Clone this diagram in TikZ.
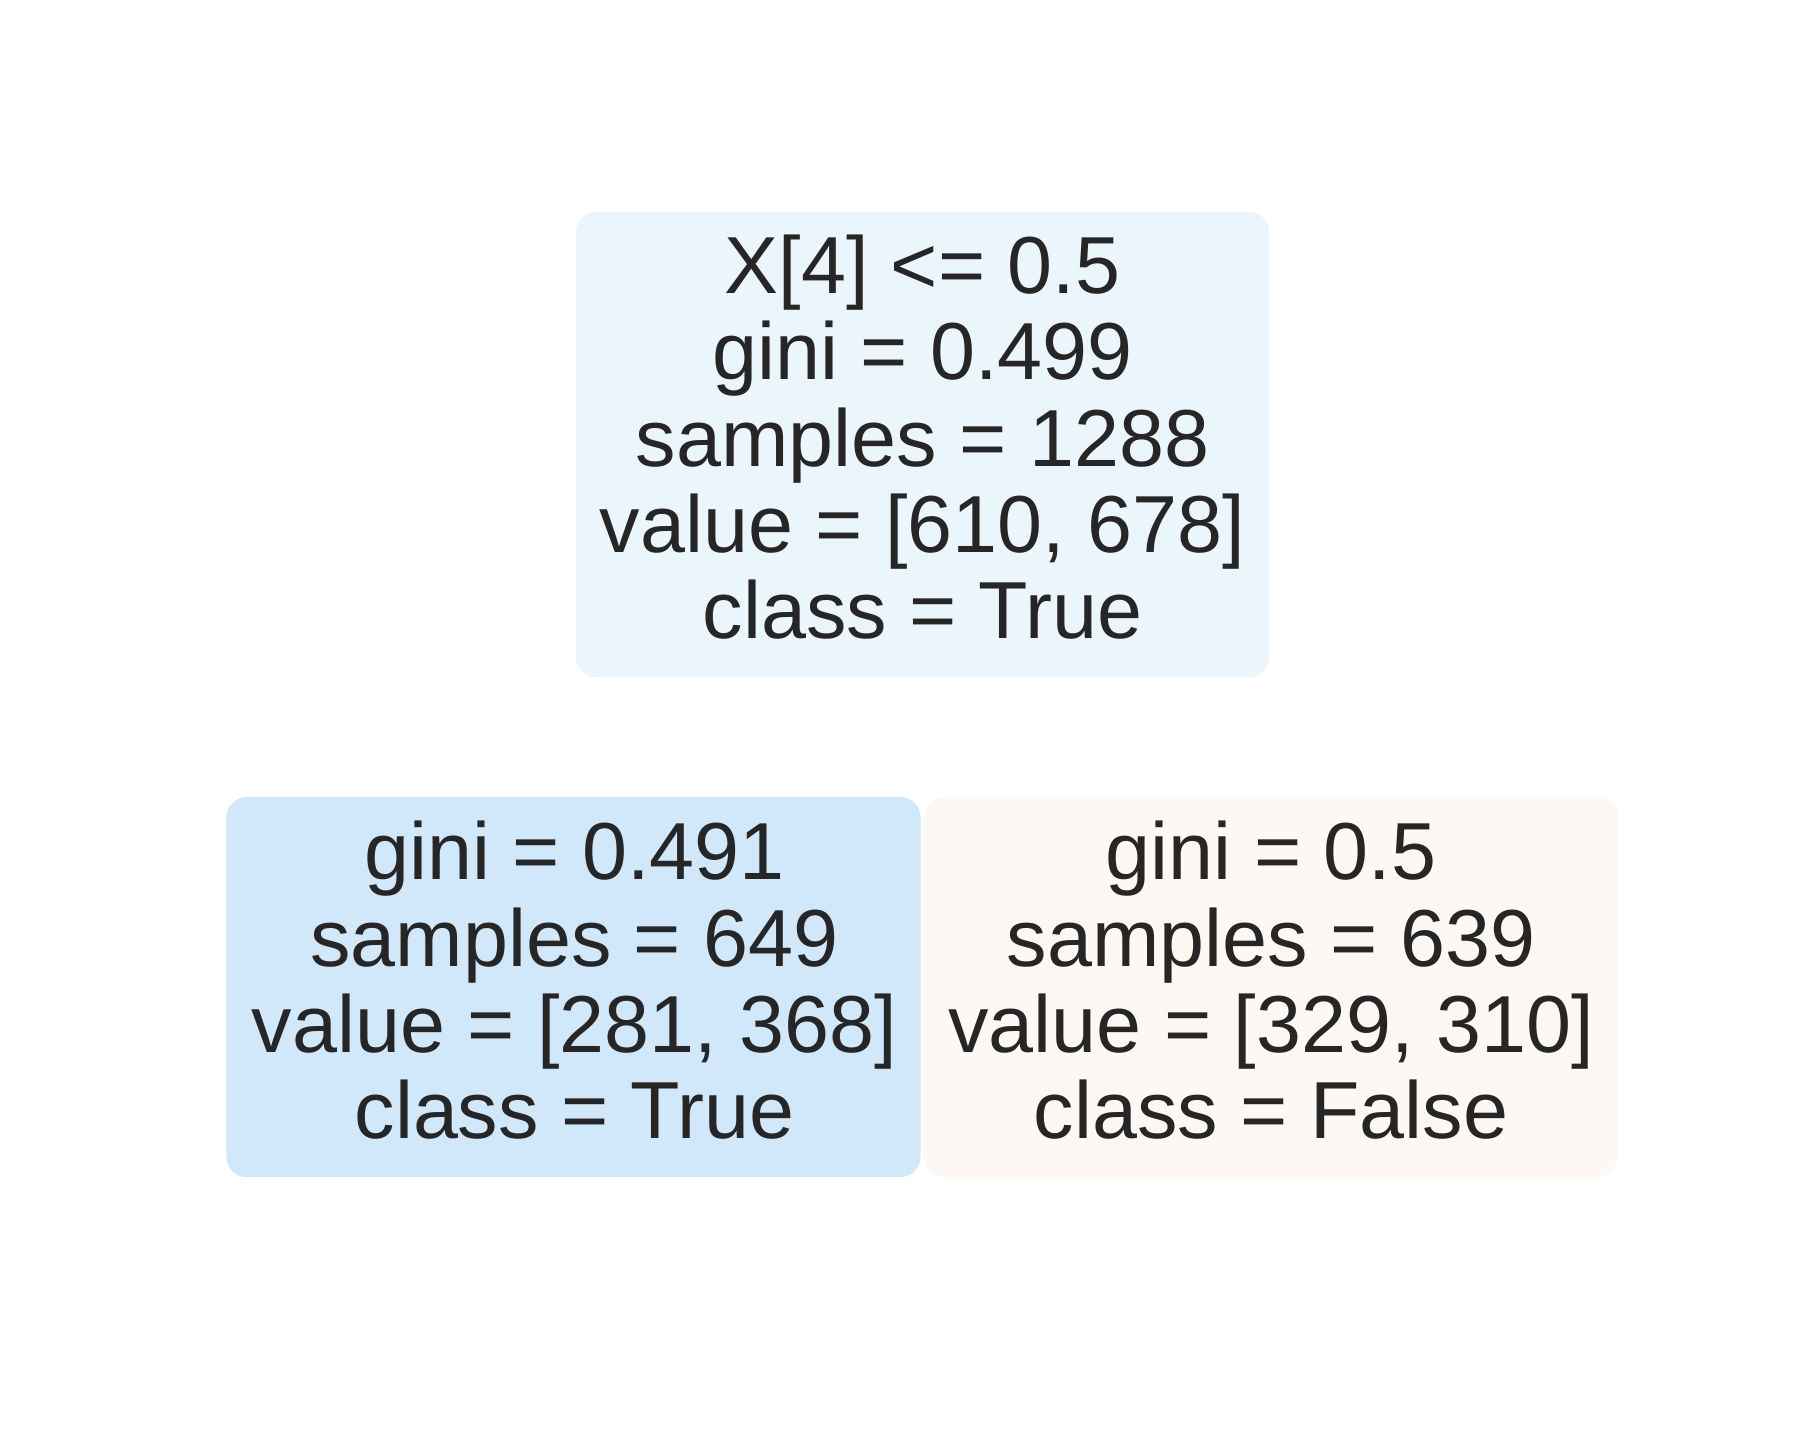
\documentclass[tikz,border=0pt]{standalone}
\usepackage{fontspec}
\setmainfont{Liberation Sans}
\definecolor{rootfill}{RGB}{235,245,252}
\definecolor{leftfill}{RGB}{208,232,249}
\definecolor{rightfill}{RGB}{253,248,244}
\definecolor{txt}{RGB}{38,38,38}
\begin{document}
\begin{tikzpicture}[x=0.4pt,y=-0.4pt,
  treebox/.style={draw=none, rounded corners=8pt, inner sep=0pt, outer sep=0pt},
  rootbox/.style={treebox, fill=rootfill, minimum width=277.2pt, minimum height=186pt},
  leafbox/.style={treebox, minimum width=277.6pt, minimum height=152pt},
  treelabel/.style={anchor=north, inner sep=0pt, align=center, text=txt,
    font=\fontsize{32.35}{34.52}\selectfont}]
\useasboundingbox[fill=white] (0,0) rectangle (1800,1440);
% boxes
\node[rootbox] (root) at (922.5,444.5) {};
\node[leafbox, fill=leftfill] (left) at (573.5,987) {};
\node[leafbox, fill=rightfill] (right) at (1271,987) {};
% texts
\node[treelabel] (roottext) at (922.5,218) {\rule{0pt}{30pt}X[4] <= 0.5\\gini = 0.499\\samples = 1288\\value = [610, 678]\\class = True};
\node[treelabel] (lefttext) at (574.5,804.3) {\rule{0pt}{30pt}gini = 0.491\\samples = 649\\value = [281, 368]\\class = True};
\node[treelabel] (righttext) at (1271,804.3) {\rule{0pt}{30pt}gini = 0.5\\samples = 639\\value = [329, 310]\\class = False};
\end{tikzpicture}
\end{document}
